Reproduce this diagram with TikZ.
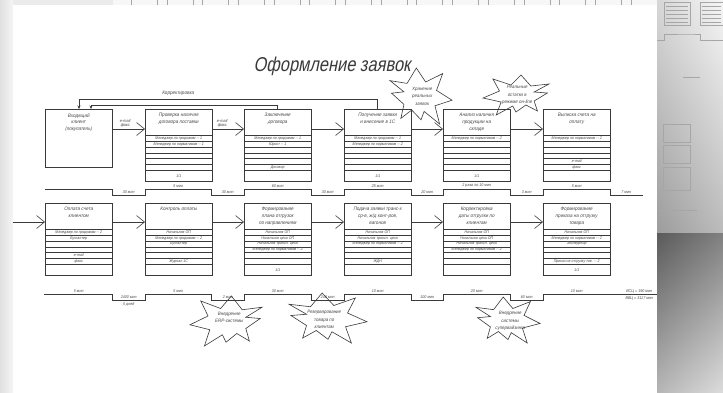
\documentclass[tikz,border=0pt]{standalone}
\usepackage{fontspec}
\newfontfamily\gost{Liberation Sans}[FakeStretch=0.82,FakeSlant=0.2]
\newfontfamily\gostw{Liberation Sans}[FakeStretch=0.92,FakeSlant=0.2]
\usetikzlibrary{arrows.meta,calc,shadings}
\definecolor{ink}{HTML}{3A3A3A}
\definecolor{txt}{HTML}{4A4A4A}
\newcommand\fhead{\gostw\fontsize{5}{6.6}\selectfont}
\newcommand\fcell{\gostw\fontsize{3.9}{4.2}\selectfont}
\newcommand\ftl{\gostw\fontsize{4}{4.6}\selectfont}
\newcommand\fburst{\gostw\fontsize{4.8}{7.6}\selectfont}
\newcommand\pbox[5]{%
  \node[procbox, anchor=north west] (#1) at (#2,#3) {};
  \node[headtext] (#1-h) at ($(#1.north)+(0,4.3)$) {#4};
  \foreach \k in {0,...,6}{\draw[rowline] ($(#1.north west)+(0,26.5+5.75*\k)$) -- ++(67,0);}
  \foreach \celltxt [count=\i] in {#5}{%
    \ifnum\i<7
      \node[celltext] (#1-r\i) at ($(#1.north)+(0,23.625+5.75*\i)$) {\celltxt};
    \else
      \node[celltext] (#1-r\i) at ($(#1.north)+(0,66.75)$) {\celltxt};
    \fi}%
}
\begin{document}
\begin{tikzpicture}[x=1pt,y=-1pt,
  procbox/.style={draw=ink,line width=0.7pt,minimum width=67pt,minimum height=72.5pt,inner sep=0pt,outer sep=0pt},
  rowline/.style={draw=ink,line width=0.45pt},
  headtext/.style={font=\fhead,text=txt,align=center,anchor=north,inner sep=0pt},
  celltext/.style={font=\fcell,text=txt,inner sep=0pt},
  tlabel/.style={font=\ftl,text=txt,inner sep=0pt},
  flow/.style={draw=ink,line width=0.6pt,-{Straight Barb[length=8pt,width=13pt]}},
  fback/.style={draw=ink,line width=0.6pt,-{Stealth[length=3.5pt,width=3pt]}},
  tline/.style={draw=ink,line width=0.7pt},
  bursttext/.style={font=\fburst,text=txt,align=center,inner sep=0pt},
  sheetline/.style={draw=black!35,line width=0.35pt},
  burst/.pic={\draw[ink,line width=0.6pt,fill=white]
    (-1,-0.55) -- (-0.45,-0.45) -- (-0.15,-1) -- (0.15,-0.5) -- (0.7,-0.8) -- (0.5,-0.2)
    -- (1,0.15) -- (0.45,0.35) -- (0.6,1) -- (0.1,0.55) -- (0,0.85) -- (-0.3,0.5)
    -- (-0.65,0.8) -- (-0.55,0.3) -- (-0.95,-0.1) -- (-0.55,-0.15) -- cycle;}
]
\useasboundingbox (0,0) rectangle (723,392);
% ---------- background ----------
\fill[black!8] (0,0) rectangle (723,392);
\shade[left color=black!12,right color=black!4] (0,0) rectangle (13,392);
\fill[black!3] (113,0) rectangle (723,5);
\foreach \x in {131,166.7,...,640}{\draw[sheetline] (\x,-1) rectangle ++(26,6);}
\shade[top color=black!4,bottom color=black!30] (657,0) rectangle (723,233);
\shade[left color=black,right color=white,opacity=0.12] (657,0) rectangle (723,233);
\shade[top color=black!58,bottom color=black!16] (657,233) rectangle (723,392);
\shade[left color=black,right color=white,opacity=0.15] (657,233) rectangle (723,392);
\draw[sheetline] (664,2) rectangle (690,25) (700,2) rectangle (723,25);
\foreach \y in {6,10,14,18,22}{\draw[sheetline] (666,\y) -- (688,\y) (702,\y) -- (721,\y);}
\draw[sheetline] (657,40) -- (664,40) -- (664,34) -- (690,34) -- (700,34) -- (700,40) -- (723,40);
\draw[sheetline] (683,77) -- (700,77);
\draw[sheetline] (663,124) rectangle (690,142) (663,145) rectangle (690,163) (663,167) rectangle (690,190);
\draw[sheetline] (658,210) -- (697,210);
% ---------- main sheet ----------
\fill[white] (13,5) rectangle (657,392);
% ---------- title ----------
\node[font=\gost\fontsize{20}{24}\selectfont,text=ink,inner sep=0pt] (title) at (332,66) {Оформление заявок};
% ---------- bursts ----------
\pic[xscale=31,yscale=28] (k1) at (421,96) {burst};
\node[bursttext] (k1t) at (422,96) {Хранение\\реальных\\заявок};
\pic[xscale=-33,yscale=20] (k2) at (516,95) {burst};
\node[bursttext] (k2t) at (517,95) {Реальные\\остатки в\\режиме он-line};
\pic[xscale=-36,yscale=25] (k3) at (226,321) {burst};
\node[bursttext] (k3t) at (229,317.5) {Внедрение\\ERP-системы};
\pic[xscale=39,yscale=25] (k4) at (328,318) {burst};
\node[bursttext] (k4t) at (324,319.5) {Резервирование\\товара по\\клиентам};
\pic[xscale=32,yscale=23] (k5) at (508,320) {burst};
\node[bursttext] (k5t) at (510,321) {Внедрение\\системы\\супервайзинга};
% ---------- top row ----------
\node[procbox,minimum height=58pt,anchor=north west] (t1) at (45,109) {};
\node[headtext] (t1-h) at ($(t1.north)+(0,4.3)$) {Входящий\\клиент\\(покупатель)};
\pbox{t2}{145}{109}{Проверка наличия\\договора поставки}{Менеджер по продажам -- 1,Менеджер по нормативам -- 1,,,,,1/1}
\pbox{t3}{244}{109}{Заключение\\договора}{Менеджер по продажам -- 1,Юрист -- 1,,,,Договор,}
\pbox{t4}{344}{109}{Получение заявки\\и внесение в 1С}{Менеджер по продажам -- 1,Менеджер по нормативам -- 2,,,,,1/1}
\pbox{t5}{443}{109}{Анализ наличия\\продукции на\\складе}{Менеджер по нормативам -- 2,,,,,,1/1}
\pbox{t6}{543}{109}{Выписка счета на\\оплату}{Менеджер по нормативам -- 2,,,,e-mail,факс,}
% top arrows
\draw[flow] ($(t1.north east)+(0,20)$) -- ($(t2.north west)+(0,20)$);
\draw[flow] ($(t2.north east)+(0,20)$) -- ($(t3.north west)+(0,20)$);
\draw[flow] ($(t3.north east)+(0,20)$) -- ($(t4.north west)+(0,20)$);
\draw[flow] ($(t4.north east)+(0,20)$) -- ($(t5.north west)+(0,20)$);
\draw[flow] ($(t5.north east)+(0,20)$) -- ($(t6.north west)+(0,20)$);
\node[tlabel,align=center,anchor=south,font=\gostw\fontsize{4.2}{4.4}\selectfont] (m1) at (125,127.8) {e-mail\\факс};
\node[tlabel,align=center,anchor=south,font=\gostw\fontsize{4.2}{4.4}\selectfont] (m2) at (222,127.8) {e-mail\\факс};
% feedback
\draw[fback] (t4.north) -- ++(0,-10) -| ($(t1.north west)+(34,0)$);
\draw[fback] (t3.north) -- ++(0,-4) -| ($(t1.north west)+(46,0)$);
\node[tlabel,font=\gostw\fontsize{5}{6}\selectfont] (corr) at (178,93.5) {Корректировка};
% top timeline
\draw[tline] (45,189) -- (112,189) -- (112,195) -- (145,195) -- (145,189) -- (211,189) -- (211,195) -- (244,195) -- (244,189) -- (311,189) -- (311,195) -- (344,195) -- (344,189) -- (411,189) -- (411,195) -- (443,195) -- (443,189) -- (510,189) -- (510,195) -- (543,195) -- (543,189) -- (610,189) -- (610,195) -- (643,195);
\node[tlabel] (a1) at (178,186) {5 мин};
\node[tlabel] (a2) at (277.5,186) {60 мин};
\node[tlabel] (a3) at (377.5,186) {25 мин};
\node[tlabel] (a4) at (476.5,186) {2 раза по 10 мин};
\node[tlabel] (a5) at (576.5,186) {5 мин};
\node[tlabel] (w1) at (128.5,192) {30 мин};
\node[tlabel] (w2) at (227.5,192) {30 мин};
\node[tlabel] (w3) at (327.5,192) {30 мин};
\node[tlabel] (w4) at (427,192) {20 мин};
\node[tlabel] (w5) at (526.5,192) {3 мин};
\node[tlabel] (w6) at (626,192) {7 мин};
% ---------- bottom row ----------
\pbox{b1}{45}{203}{Оплата счета\\клиентом}{Менеджер по продажам -- 2,Бухгалтер,,,e-mail,факс,}
\pbox{b2}{145}{203}{Контроль оплаты}{Начальник ОП,Менеджер по продажам -- 2,Бухгалтер,,,Журнал 1С,}
\pbox{b3}{244}{203}{Формирование\\плана отгрузок\\по направлениям}{Начальник ОП,Начальник цеха ОП,Начальник трансп. цеха,Менеджер по нормативам -- 2,,,1/1}
\pbox{b4}{344}{203}{Подача заявки транс-х\\ср-в, ж/д конт-ров,\\вагонов}{Начальник ОП,Начальник трансп. цеха,Менеджер по нормативам -- 2,,,ЖДН,}
\pbox{b5}{443}{203}{Корректировка\\даты отгрузки по\\клиентам}{Начальник ОП,Начальник цеха ОП,Начальник трансп. цеха,Менеджер по нормативам -- 2,,,}
\pbox{b6}{543}{203}{Формирование\\приказа на отгрузку\\товара}{Начальник ОП,Менеджер по нормативам -- 2,Экспедитор,,,Приказ на отгрузку тов. -- 2,1/1}
\coordinate (in) at (13,222);
\draw[flow] (in) -- ($(b1.north west)+(0,19)$);
\draw[flow] ($(b1.north east)+(0,19)$) -- ($(b2.north west)+(0,19)$);
\draw[flow] ($(b2.north east)+(0,19)$) -- ($(b3.north west)+(0,19)$);
\draw[flow] ($(b3.north east)+(0,19)$) -- ($(b4.north west)+(0,19)$);
\draw[flow] ($(b4.north east)+(0,19)$) -- ($(b5.north west)+(0,19)$);
\draw[flow] ($(b5.north east)+(0,19)$) -- ($(b6.north west)+(0,19)$);
% bottom timeline
\draw[tline] (44,294) -- (112,294) -- (112,300.5) -- (145,300.5) -- (145,294) -- (211,294) -- (211,300.5) -- (244,300.5) -- (244,294) -- (311,294) -- (311,300.5) -- (344,300.5) -- (344,294) -- (411,294) -- (411,300.5) -- (443,300.5) -- (443,294) -- (510,294) -- (510,300.5) -- (543,300.5) -- (543,294) -- (657,294);
\node[tlabel] (c1) at (78.5,291) {5 мин};
\node[tlabel] (c2) at (178,291) {5 мин};
\node[tlabel] (c3) at (277.5,291) {30 мин};
\node[tlabel] (c4) at (377.5,291) {10 мин};
\node[tlabel] (c5) at (476.5,291) {20 мин};
\node[tlabel] (c6) at (576.5,291) {10 мин};
\node[tlabel] (v1) at (128.5,297.5) {2400 мин};
\node[tlabel] (v1b) at (128.5,304.5) {5 дней};
\node[tlabel] (v2) at (227.5,297.5) {2 мин};
\node[tlabel] (v3) at (327.5,297.5) {240 мин};
\node[tlabel] (v4) at (427,297.5) {100 мин};
\node[tlabel] (v5) at (526.5,297.5) {60 мин};
\node[tlabel] (sum1) at (639,291) {ВСЦ = 190 мин};
\node[tlabel] (sum2) at (639,298) {ВВЦ = 3117 мин};
\end{tikzpicture}
\end{document}
